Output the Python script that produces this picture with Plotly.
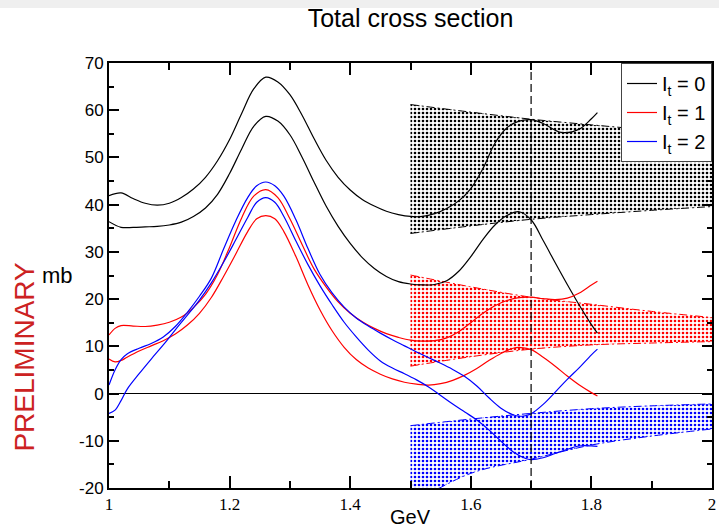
import plotly.graph_objects as go

# ---------------- data ----------------
title_text = "Total cross section"
x_title = "GeV"
y_title = "mb"
watermark = "PRELIMINARY"

x_tickvals = [1.0, 1.2, 1.4, 1.6, 1.8, 2.0]
x_ticktext = ["1", "1.2", "1.4", "1.6", "1.8", "2"]
y_tickvals = [-20, -10, 0, 10, 20, 30, 40, 50, 60, 70]
y_ticktext = ["-20", "-10", "0", "10", "20", "30", "40", "50", "60", "70"]

# I_t = 0 (black)
it0_upper_x = [1.00, 1.02, 1.04, 1.06, 1.08, 1.10, 1.12, 1.14, 1.16, 1.18, 1.20, 1.22, 1.24, 1.26, 1.28,
               1.30, 1.32, 1.34, 1.36, 1.38, 1.40, 1.42, 1.44, 1.46, 1.48, 1.50, 1.52, 1.54, 1.56, 1.58,
               1.60, 1.62, 1.64, 1.66, 1.68, 1.70, 1.72, 1.75, 1.78, 1.80, 1.81]
it0_upper_y = [41.9, 42.5, 41.3, 40.3, 39.9, 40.3, 41.5, 43.3, 45.8, 49.3, 53.8, 59.3, 64.5, 67.0, 66.0,
               63.3, 59.0, 54.0, 49.4, 45.8, 43.1, 41.1, 39.7, 38.6, 37.9, 37.5, 37.5, 38.1, 39.2, 40.8,
               43.4, 47.6, 53.0, 56.3, 57.7, 58.0, 57.2, 55.3, 56.0, 58.2, 59.5]
it0_lower_x = [1.00, 1.02, 1.04, 1.06, 1.08, 1.10, 1.12, 1.14, 1.16, 1.18, 1.20, 1.22, 1.24, 1.26, 1.28,
               1.30, 1.32, 1.34, 1.36, 1.38, 1.40, 1.42, 1.44, 1.46, 1.48, 1.50, 1.52, 1.54, 1.56, 1.58,
               1.60, 1.62, 1.64, 1.66, 1.68, 1.70, 1.72, 1.74, 1.76, 1.78, 1.80, 1.81]
it0_lower_y = [36.4, 35.2, 35.2, 35.3, 35.4, 35.7, 36.3, 37.5, 39.3, 42.2, 46.6, 51.8, 56.6, 58.7, 57.7,
               54.8, 50.1, 44.8, 39.7, 35.4, 31.8, 28.8, 26.5, 24.8, 23.7, 23.2, 23.0, 23.1, 23.9, 25.9,
               29.0, 32.6, 35.7, 37.7, 38.5, 36.8, 32.4, 27.7, 23.1, 18.7, 14.6, 12.8]

# I_t = 1 (red)
it1_upper_x = [1.00, 1.01, 1.02, 1.04, 1.06, 1.08, 1.10, 1.12, 1.14, 1.16, 1.18, 1.20, 1.22, 1.24, 1.26,
               1.28, 1.30, 1.32, 1.34, 1.36, 1.38, 1.40, 1.42, 1.44, 1.46, 1.48, 1.50, 1.52, 1.54, 1.56,
               1.58, 1.60, 1.62, 1.64, 1.66, 1.68, 1.70, 1.72, 1.74, 1.76, 1.78, 1.80, 1.81]
it1_upper_y = [12.4, 13.8, 14.4, 14.3, 14.2, 14.5, 15.1, 16.2, 18.2, 21.0, 25.2, 31.0, 37.2, 41.8, 43.2,
               41.5, 37.0, 31.6, 26.4, 22.6, 19.4, 17.0, 15.2, 13.8, 12.7, 11.9, 11.3, 11.1, 11.2, 11.8,
               13.1, 15.0, 17.0, 18.6, 19.7, 20.3, 20.4, 20.1, 19.9, 20.2, 21.3, 23.0, 23.8]
it1_lower_x = [1.00, 1.01, 1.02, 1.03, 1.05, 1.07, 1.09, 1.11, 1.13, 1.15, 1.17, 1.19, 1.21, 1.23, 1.245,
               1.26, 1.275, 1.29, 1.31, 1.33, 1.35, 1.37, 1.39, 1.41, 1.43, 1.45, 1.47, 1.49, 1.51, 1.53,
               1.55, 1.57, 1.59, 1.61, 1.63, 1.65, 1.67, 1.68, 1.70, 1.72, 1.74, 1.76, 1.78, 1.80, 1.81]
it1_lower_y = [7.3, 6.7, 7.0, 7.7, 9.0, 10.1, 11.2, 12.6, 14.5, 17.0, 20.4, 24.8, 29.5, 34.3, 37.0,
               37.7, 37.0, 34.3, 29.0, 23.0, 17.7, 13.3, 9.8, 7.2, 5.4, 4.1, 3.1, 2.4, 2.0, 1.8,
               2.1, 2.8, 3.9, 5.3, 7.0, 8.5, 9.6, 9.8, 9.3, 7.7, 5.8, 3.7, 1.8, 0.2, -0.5]

# I_t = 2 (blue)
it2_upper_x = [1.00, 1.01, 1.02, 1.03, 1.05, 1.07, 1.09, 1.11, 1.13, 1.15, 1.17, 1.19, 1.21, 1.23, 1.245,
               1.26, 1.275, 1.29, 1.31, 1.33, 1.35, 1.37, 1.39, 1.41, 1.43, 1.45, 1.47, 1.49, 1.51, 1.53,
               1.55, 1.57, 1.59, 1.61, 1.63, 1.65, 1.67, 1.68, 1.69, 1.70, 1.72, 1.74, 1.76, 1.78, 1.80, 1.81]
it2_upper_y = [1.8, 5.0, 7.2, 8.4, 9.6, 10.6, 12.0, 14.2, 17.2, 20.6, 24.5, 30.6, 36.5, 41.5, 44.0,
               44.8, 44.0, 41.8, 36.8, 30.7, 25.2, 21.3, 18.3, 16.0, 14.3, 12.8, 11.4, 10.1, 8.8, 7.6,
               6.4, 5.1, 3.6, 1.6, -0.9, -3.1, -4.5, -4.8, -4.7, -4.3, -2.3, 0.3, 3.0, 5.5, 8.2, 9.4]
it2_lower_x = [1.00, 1.01, 1.02, 1.03, 1.05, 1.07, 1.09, 1.11, 1.13, 1.15, 1.17, 1.19, 1.21, 1.23, 1.245,
               1.26, 1.275, 1.29, 1.31, 1.33, 1.35, 1.37, 1.39, 1.41, 1.43, 1.45, 1.47, 1.49, 1.51, 1.53,
               1.55, 1.57, 1.59, 1.61, 1.63, 1.65, 1.67, 1.69, 1.70, 1.72, 1.74, 1.76, 1.78, 1.80, 1.81]
it2_lower_y = [-4.2, -3.5, -1.5, 0.9, 4.2, 7.3, 10.3, 13.5, 16.6, 19.8, 23.5, 27.8, 32.5, 37.3, 40.5,
               41.5, 40.5, 37.5, 32.3, 27.3, 22.8, 18.8, 15.1, 12.0, 9.2, 6.9, 5.4, 4.2, 2.9, 1.4,
               -0.4, -2.2, -3.9, -5.6, -7.7, -10.1, -12.3, -13.7, -14.0, -13.6, -12.7, -11.8, -11.1, -11.1, -11.2]

# error bands (1.5 - 2 GeV)
band_x = [1.5, 1.6, 1.7, 1.8, 1.9, 2.0]
band0_hi = [61.2, 59.6, 58.1, 56.9, 55.8, 54.8]
band0_lo = [33.9, 35.5, 36.9, 37.9, 38.8, 39.6]
band1_hi = [25.1, 22.6, 20.4, 18.9, 17.4, 16.1]
band1_lo = [5.8, 7.8, 9.4, 10.3, 10.7, 11.0]
band2_hi = [-6.8, -5.4, -4.2, -3.2, -2.6, -2.2]
band2_lo = [-23.5, -16.9, -13.9, -10.9, -9.0, -7.5]

ref_energy = 1.7

series = [
    ("I<sub>t</sub> = 0", "black", it0_upper_x, it0_upper_y, it0_lower_x, it0_lower_y, band0_lo, band0_hi),
    ("I<sub>t</sub> = 1", "red", it1_upper_x, it1_upper_y, it1_lower_x, it1_lower_y, band1_lo, band1_hi),
    ("I<sub>t</sub> = 2", "blue", it2_upper_x, it2_upper_y, it2_lower_x, it2_lower_y, band2_lo, band2_hi),
]

fig = go.Figure()

# bands first
for name, col, ux, uy, lx, ly, blo, bhi in series:
    fig.add_trace(go.Scatter(x=band_x, y=blo, mode="lines",
                             line=dict(color=col, width=1, dash="8px,3px,2px,3px", shape="spline"),
                             showlegend=False, hoverinfo="skip"))
    fig.add_trace(go.Scatter(x=band_x, y=bhi, mode="lines",
                             line=dict(color=col, width=1, dash="8px,3px,2px,3px", shape="spline"),
                             fill="tonexty", fillcolor="rgba(0,0,0,0)",
                             fillpattern=dict(shape=".", fgcolor=col, bgcolor="rgba(0,0,0,0)", size=4,
                                              solidity=0.33, fillmode="replace"),
                             showlegend=False, hoverinfo="skip"))

# curves
for name, col, ux, uy, lx, ly, blo, bhi in series:
    fig.add_trace(go.Scatter(x=ux, y=uy, mode="lines", name=name, legendgroup=name,
                             line=dict(color=col, width=1.2, shape="spline", smoothing=1.0, simplify=False)))
    fig.add_trace(go.Scatter(x=lx, y=ly, mode="lines", name=name, legendgroup=name, showlegend=False,
                             line=dict(color=col, width=1.2, shape="spline", smoothing=1.0, simplify=False)))

# vertical dashed reference line
fig.add_shape(type="line", x0=ref_energy, x1=ref_energy, xref="x", y0=0, y1=1, yref="paper",
              line=dict(color="black", width=1.2, dash="8px,4px"))

# gray strip at the very top of the page
fig.add_shape(type="rect", xref="paper", yref="paper", x0=-0.2, x1=1.1, y0=1 + 55 / 425, y1=1 + 70 / 425,
              line=dict(width=0), fillcolor="#efefef", layer="below")

sans = "Liberation Sans, Arial, sans-serif"
serif = "Liberation Serif, Times New Roman, serif"

fig.update_layout(
    width=719, height=530,
    margin=dict(l=109, r=3, t=63, b=42),
    paper_bgcolor="white", plot_bgcolor="white",
    title=dict(text=title_text, x=0.5, xref="paper", y=1 - 18 / 530, yref="container", yanchor="middle",
               xanchor="center", font=dict(family=sans, size=25, color="black")),
    showlegend=True,
    legend=dict(x=1.0, xanchor="right", y=1.0, yanchor="top", bgcolor="white", bordercolor="#444",
                borderwidth=1, font=dict(family=sans, size=20, color="black"), itemwidth=30,
                tracegroupgap=0),
    font=dict(family=sans, color="black"),
)

fig.update_xaxes(range=[1, 2], showgrid=False, zeroline=False,
                 showline=True, linecolor="black", linewidth=2, mirror="allticks",
                 ticks="inside", ticklen=12, tickwidth=1.5, tickcolor="black",
                 tickvals=x_tickvals, ticktext=x_ticktext,
                 tickfont=dict(family=serif, size=17, color="black"),
                 minor=dict(dtick=0.1, ticks="inside", ticklen=7, tickwidth=1.5, tickcolor="black", showgrid=False))
fig.update_yaxes(range=[-20, 70], showgrid=False, zeroline=True, zerolinecolor="black", zerolinewidth=1.2,
                 showline=True, linecolor="black", linewidth=2, mirror="allticks",
                 ticks="inside", ticklen=10, tickwidth=1.5, tickcolor="black",
                 tickvals=y_tickvals, ticktext=y_ticktext,
                 tickfont=dict(family=sans, size=17, color="black"),
                 minor=dict(dtick=5, ticks="inside", ticklen=5, tickwidth=1.5, tickcolor="black", showgrid=False))

fig.add_annotation(text=x_title, xref="paper", yref="paper", x=0.5, y=-29 / 425, xanchor="center", yanchor="middle",
                   showarrow=False, font=dict(family=sans, size=20, color="black"))
fig.add_annotation(text=y_title, xref="paper", yref="paper", x=-52 / 607, y=0.5, xanchor="center", yanchor="middle",
                   showarrow=False, font=dict(family=sans, size=22, color="black"))
fig.add_annotation(text=watermark, xref="paper", yref="paper", x=-86 / 607, y=(488 - 357) / 425,
                   xanchor="center", yanchor="middle", textangle=-90,
                   showarrow=False, font=dict(family=sans, size=28, color="#cc2222"))

fig.write_html("out.html")
